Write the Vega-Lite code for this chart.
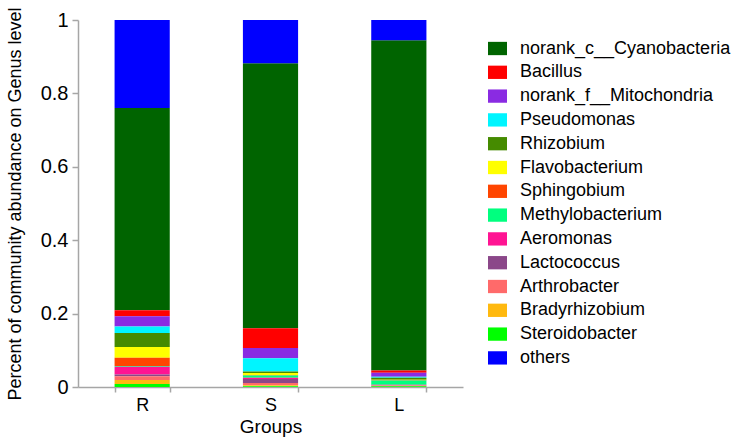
{
  "$schema": "https://vega.github.io/schema/vega-lite/v6.json",
  "autosize": "none",
  "width": 385,
  "height": 367,
  "padding": {"left": 78, "top": 20, "right": 270, "bottom": 53},
  "background": "white",
  "config": {
    "font": "Liberation Sans",
    "view": {"stroke": null},
    "axis": {"domainColor": "#a6a6a6", "tickColor": "#a6a6a6", "labelColor": "#000000", "titleColor": "#000000", "titleFontWeight": "normal", "domainWidth": 1.5, "tickWidth": 1.5, "grid": false}
  },
  "data": {
    "values": [
      {"group": "R", "genus": "norank_c__Cyanobacteria", "rank": 13, "value": 0.551},
      {"group": "R", "genus": "Bacillus", "rank": 12, "value": 0.016},
      {"group": "R", "genus": "norank_f__Mitochondria", "rank": 11, "value": 0.028},
      {"group": "R", "genus": "Pseudomonas", "rank": 10, "value": 0.018},
      {"group": "R", "genus": "Rhizobium", "rank": 9, "value": 0.038},
      {"group": "R", "genus": "Flavobacterium", "rank": 8, "value": 0.029},
      {"group": "R", "genus": "Sphingobium", "rank": 7, "value": 0.023},
      {"group": "R", "genus": "Methylobacterium", "rank": 6, "value": 0.002},
      {"group": "R", "genus": "Aeromonas", "rank": 5, "value": 0.021},
      {"group": "R", "genus": "Lactococcus", "rank": 4, "value": 0.005},
      {"group": "R", "genus": "Arthrobacter", "rank": 3, "value": 0.010},
      {"group": "R", "genus": "Bradyrhizobium", "rank": 2, "value": 0.011},
      {"group": "R", "genus": "Steroidobacter", "rank": 1, "value": 0.008},
      {"group": "R", "genus": "others", "rank": 14, "value": 0.240},
      {"group": "S", "genus": "norank_c__Cyanobacteria", "rank": 13, "value": 0.722},
      {"group": "S", "genus": "Bacillus", "rank": 12, "value": 0.054},
      {"group": "S", "genus": "norank_f__Mitochondria", "rank": 11, "value": 0.028},
      {"group": "S", "genus": "Pseudomonas", "rank": 10, "value": 0.036},
      {"group": "S", "genus": "Rhizobium", "rank": 9, "value": 0.004},
      {"group": "S", "genus": "Flavobacterium", "rank": 8, "value": 0.005},
      {"group": "S", "genus": "Sphingobium", "rank": 7, "value": 0.002},
      {"group": "S", "genus": "Methylobacterium", "rank": 6, "value": 0.006},
      {"group": "S", "genus": "Aeromonas", "rank": 5, "value": 0.003},
      {"group": "S", "genus": "Lactococcus", "rank": 4, "value": 0.011},
      {"group": "S", "genus": "Arthrobacter", "rank": 3, "value": 0.006},
      {"group": "S", "genus": "Bradyrhizobium", "rank": 2, "value": 0.003},
      {"group": "S", "genus": "Steroidobacter", "rank": 1, "value": 0.002},
      {"group": "S", "genus": "others", "rank": 14, "value": 0.118},
      {"group": "L", "genus": "norank_c__Cyanobacteria", "rank": 13, "value": 0.900},
      {"group": "L", "genus": "Bacillus", "rank": 12, "value": 0.006},
      {"group": "L", "genus": "norank_f__Mitochondria", "rank": 11, "value": 0.011},
      {"group": "L", "genus": "Pseudomonas", "rank": 10, "value": 0.003},
      {"group": "L", "genus": "Rhizobium", "rank": 9, "value": 0.005},
      {"group": "L", "genus": "Flavobacterium", "rank": 8, "value": 0.001},
      {"group": "L", "genus": "Sphingobium", "rank": 7, "value": 0.001},
      {"group": "L", "genus": "Methylobacterium", "rank": 6, "value": 0.012},
      {"group": "L", "genus": "Aeromonas", "rank": 5, "value": 0.001},
      {"group": "L", "genus": "Lactococcus", "rank": 4, "value": 0.001},
      {"group": "L", "genus": "Arthrobacter", "rank": 3, "value": 0.001},
      {"group": "L", "genus": "Bradyrhizobium", "rank": 2, "value": 0.001},
      {"group": "L", "genus": "Steroidobacter", "rank": 1, "value": 0.002},
      {"group": "L", "genus": "others", "rank": 14, "value": 0.055}
    ]
  },
  "mark": {"type": "bar"},
  "encoding": {
    "x": {
      "field": "group", "type": "nominal", "sort": ["R", "S", "L"],
      "scale": {"paddingInner": 0.57, "paddingOuter": 0.285},
      "axis": {"title": "Groups", "labelAngle": 0, "labelFontSize": 18, "titleFontSize": 19, "tickSize": 5, "labelPadding": 4, "titlePadding": 3, "tickBand": "extent"}
    },
    "y": {
      "field": "value", "type": "quantitative", "stack": "zero",
      "scale": {"domain": [0, 1], "nice": false},
      "axis": {"title": "Percent of community abundance on Genus level", "values": [0, 0.2, 0.4, 0.6, 0.8, 1], "format": "~f", "labelFontSize": 20, "titleFontSize": 18, "tickSize": 6, "labelPadding": 4, "titlePadding": 16}
    },
    "color": {
      "field": "genus", "type": "nominal",
      "scale": {
        "domain": ["norank_c__Cyanobacteria", "Bacillus", "norank_f__Mitochondria", "Pseudomonas", "Rhizobium", "Flavobacterium", "Sphingobium", "Methylobacterium", "Aeromonas", "Lactococcus", "Arthrobacter", "Bradyrhizobium", "Steroidobacter", "others"],
        "range": ["#006400", "#FF0000", "#8A2BE2", "#00F5FF", "#458B00", "#FFFF00", "#FF4500", "#00FF7F", "#FF1493", "#8B4789", "#FF6A6A", "#FFB90F", "#00FF00", "#0000FF"]
      },
      "legend": {
        "title": null, "orient": "none", "legendX": 410, "legendY": 19,
        "symbolType": "M-1,-0.7H1V0.7H-1Z", "symbolSize": 361, "symbolStrokeWidth": 0,
        "labelFontSize": 18, "labelOffset": 13, "rowPadding": 4.8, "labelLimit": 300, "symbolOpacity": 1
      }
    },
    "order": {"field": "rank", "type": "quantitative", "sort": "ascending"}
  }
}
